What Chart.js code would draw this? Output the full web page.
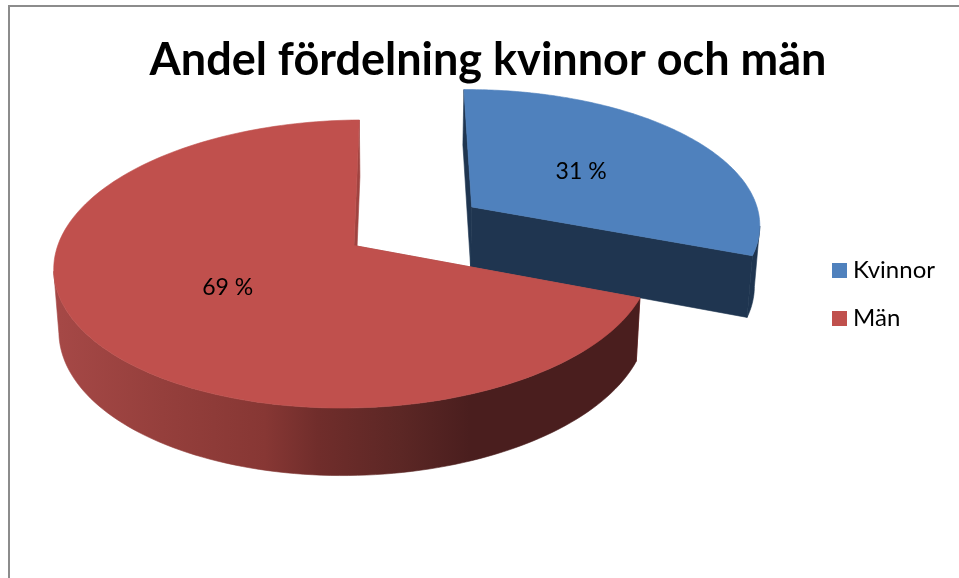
<!DOCTYPE html>
<html>
<head>
<meta charset="utf-8">
<script src="https://cdn.jsdelivr.net/npm/chart.js@4"></script>
<style>
    html, body { margin: 0; padding: 0; background: #fff; }
    #frame { position: absolute; left: 8px; top: 5px; right: 0; bottom: 0; border-top: 2px solid #8c8c8c; border-left: 2px solid #8c8c8c; }
    #chart { position: absolute; left: 0; top: 0; display: block; }
</style>
</head>
<body>
<div id="frame"></div>
<canvas id="chart" width="959" height="578"></canvas>
<script>
const categories = ['Kvinnor', 'Män'];
const shares = [31, 69];
const explode = [0.4914, 0];
const topColors = ['#4f81bd', '#c0504d'];
const edgeColors = ['#1f3550', '#a04340'];

// plane of the pie (unit circle) -> screen, tilted with a bit of perspective
function project(u, v) {
    const w = 0.0027 * u + 0.1285 * v + 1;
    return {
        x: (297.1 * u + 51.5 * v + 354) / w,
        y: (-1.5 * u - 110.1 * v + 245.5) / w
    };
}

// same point on the underside of the pie
function drop(p) {
    return { x: 398 + (p.x - 398) * 0.985, y: p.y + 52 + 0.038 * p.y };
}

function polygon(ctx, pts, fill) {
    ctx.beginPath();
    pts.forEach((p, i) => i ? ctx.lineTo(p.x, p.y) : ctx.moveTo(p.x, p.y));
    ctx.closePath();
    ctx.fillStyle = fill;
    ctx.strokeStyle = fill;
    ctx.lineWidth = 0.6;
    ctx.fill();
    ctx.stroke();
}

function redWall(ctx) {
    const g = ctx.createLinearGradient(60, 0, 470, 0);
    g.addColorStop(0, '#a54846');
    g.addColorStop(0.25, '#953f3c');
    g.addColorStop(0.5, '#873734');
    g.addColorStop(0.63, '#702d2b');
    g.addColorStop(0.83, '#5c2725');
    g.addColorStop(1, '#4a1e1e');
    return g;
}

function drawSlice(ctx, arc, index) {
    const mid = (arc.startAngle + arc.endAngle) / 2;
    const cu = Math.cos(mid) * explode[index];
    const cv = -Math.sin(mid) * explode[index];
    const steps = 160;
    const rim = [];
    for (let i = 0; i <= steps; i++) {
        const a = arc.startAngle + (arc.endAngle - arc.startAngle) * i / steps;
        rim.push(project(cu + Math.cos(a), cv - Math.sin(a)));
    }
    const apex = project(cu, cv);
    const first = rim[0];
    const last = rim[steps];

    polygon(ctx, [apex, first, drop(first), drop(apex)], edgeColors[index]);
    polygon(ctx, [apex, last, drop(last), drop(apex)], edgeColors[index]);

    // only the part of the rim that faces the viewer
    const front = rim.filter((p, i) => i < steps ? rim[i + 1].x < p.x : rim[i - 1].x > p.x);
    const wall = index === 1 ? redWall(ctx) : edgeColors[index];
    polygon(ctx, front.concat(front.slice().reverse().map(drop)), wall);

    polygon(ctx, [apex].concat(rim), topColors[index]);
}

const tiltedPie = {
    id: 'tiltedPie',
    beforeDatasetsDraw(chart) {
        const ctx = chart.ctx;
        const arcs = chart.getDatasetMeta(0).data;
        ctx.save();
        drawSlice(ctx, arcs[0], 0);
        drawSlice(ctx, arcs[1], 1);

        ctx.fillStyle = '#000';
        ctx.font = '23px Lato';
        ctx.textAlign = 'center';
        ctx.textBaseline = 'middle';
        arcs.forEach((arc, i) => {
            const mid = (arc.startAngle + arc.endAngle) / 2;
            const r = explode[i] + 0.49;
            const p = project(Math.cos(mid) * r, -Math.sin(mid) * r);
            ctx.fillText(shares[i] + ' %', p.x, p.y + 1);
        });
        ctx.restore();
        return false;
    }
};

function swatch(color) {
    const c = document.createElement('canvas');
    c.width = 15;
    c.height = 15;
    const g = c.getContext('2d');
    g.fillStyle = color;
    g.fillRect(0, 0, 15, 15);
    return c;
}

new Chart(document.getElementById('chart'), {
    type: 'pie',
    data: {
        labels: categories,
        datasets: [{
            data: shares,
            backgroundColor: topColors
        }]
    },
    options: {
        responsive: false,
        animation: false,
        layout: { padding: { left: 31, right: 14, top: 29, bottom: 19 } },
        plugins: {
            title: {
                display: true,
                text: 'Andel fördelning kvinnor och män',
                color: '#000',
                font: { family: 'Lato', size: 45, weight: 'bold' },
                padding: { top: 4, bottom: 4 }
            },
            legend: {
                position: 'right',
                labels: {
                    color: '#000',
                    font: { family: 'Lato', size: 24 },
                    padding: 24,
                    usePointStyle: true,
                    pointStyleWidth: 3,
                    generateLabels: () => categories.map((name, i) => ({
                        text: name,
                        fillStyle: topColors[i],
                        strokeStyle: topColors[i],
                        lineWidth: 0,
                        pointStyle: swatch(topColors[i]),
                        index: i
                    }))
                }
            },
            tooltip: { enabled: false }
        }
    },
    plugins: [tiltedPie]
});
</script>
</body>
</html>
